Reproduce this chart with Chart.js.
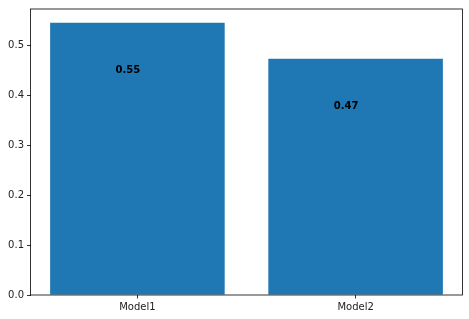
<!DOCTYPE html>
<html>
<head>
<meta charset="utf-8">
<script src="https://cdn.jsdelivr.net/npm/chart.js@4"></script>
<style>
html,body{margin:0;padding:0;background:#fff;}
#wrap{width:469px;height:319px;}
</style>
</head>
<body>
<div id="wrap"><canvas id="c" width="469" height="319"></canvas></div>
<script>
const categories = ['Model1', 'Model2'];
const values = [0.546, 0.474];
const valueLabels = ['0.55', '0.47'];
const yTicks = [0.0, 0.1, 0.2, 0.3, 0.4, 0.5];
const yMax = 0.5737;
const labelOffsetY = 0.1;
const labelOffsetX = 0.1;

const FONT = 'DejaVu Sans';
const INK = '#000';

const framePlugin = {
  id: 'frame',
  afterDatasetsDraw(chart) {
    const {ctx, chartArea: a} = chart;
    ctx.save();
    ctx.strokeStyle = INK;
    ctx.lineWidth = 0.8;
    ctx.strokeRect(a.left, a.top, a.right - a.left, a.bottom - a.top);
    // value labels
    const xs = chart.scales.x, ys = chart.scales.y;
    ctx.fillStyle = '#000';
    ctx.font = 'bold 10px "' + FONT + '"';
    ctx.textAlign = 'left';
    ctx.textBaseline = 'alphabetic';
    values.forEach((v, i) => {
      ctx.fillText(valueLabels[i], xs.getPixelForValue(i - labelOffsetX), ys.getPixelForValue(v - labelOffsetY));
    });
    ctx.restore();
  }
};

new Chart(document.getElementById('c'), {
  type: 'bar',
  data: {
    datasets: [{
      data: values.map((v, i) => ({x: i, y: v})),
      backgroundColor: '#1f77b4',
      borderWidth: 0,
      categoryPercentage: 1.0,
      barPercentage: 0.8
    }]
  },
  options: {
    responsive: false,
    animation: false,
    devicePixelRatio: 1,
    layout: {padding: {top: 7, right: 6.5, left: 0, bottom: 0}},
    plugins: {legend: {display: false}, tooltip: {enabled: false}},
    scales: {
      x: {
        type: 'linear',
        offset: false,
        min: -0.49,
        max: 1.49,
        afterBuildTicks(s) { s.ticks = categories.map((c, i) => ({value: i})); },
        afterFit(s) { s.height = 24; },
        grid: {offset: false, drawOnChartArea: false, drawTicks: true, tickLength: 3.5, tickColor: INK, tickWidth: 0.8},
        border: {display: false},
        ticks: {
          padding: 3,
          color: '#222',
          font: {family: FONT, size: 10},
          maxRotation: 0,
          autoSkip: false,
          callback: (v) => categories[v] ?? ''
        }
      },
      y: {
        min: 0,
        max: yMax,
        afterBuildTicks(s) { s.ticks = yTicks.map(v => ({value: v})); },
        afterFit(s) { s.width = 30.5; },
        grid: {offset: false, drawOnChartArea: false, drawTicks: true, tickLength: 3.5, tickColor: INK, tickWidth: 0.8},
        border: {display: false},
        ticks: {
          padding: 3,
          color: '#222',
          font: {family: FONT, size: 10},
          callback: (v) => Number(v).toFixed(1)
        }
      }
    }
  },
  plugins: [framePlugin]
});
</script>
</body>
</html>
